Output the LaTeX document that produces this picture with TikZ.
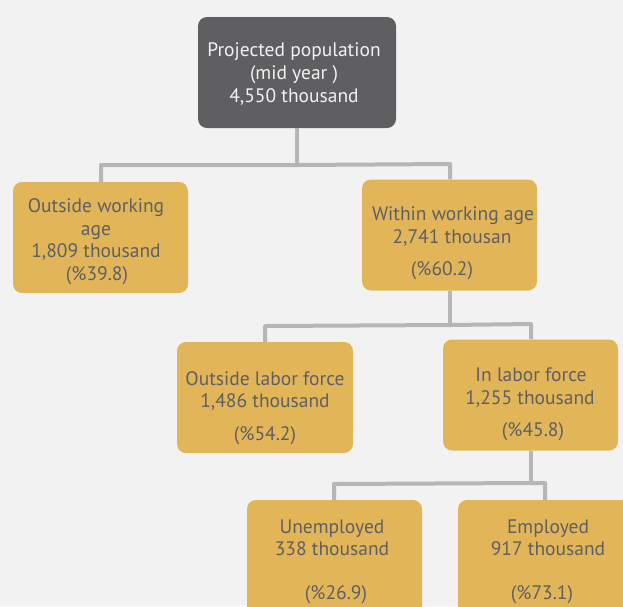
\documentclass[tikz,border=0pt]{standalone}
\usepackage{fontspec}
\setmainfont{PT Sans}
\definecolor{bg}{HTML}{F2F2F2}
\definecolor{darkbox}{HTML}{5F5F61}
\definecolor{goldbox}{HTML}{E2B658}
\definecolor{conncol}{HTML}{B5B6BA}
\definecolor{txtcol}{HTML}{5E5F63}
\definecolor{lighttxt}{HTML}{F2F2F2}
\begin{document}
\begin{tikzpicture}[x=1pt,y=-1pt,
  box/.style={rounded corners=9pt, inner sep=0pt, draw=none},
  gbox/.style={box, fill=goldbox},
  dbox/.style={box, fill=darkbox},
  lbl/.style={font=\fontsize{19.5}{22}\selectfont, text=txtcol, inner sep=0pt, text height=13.5pt, text depth=4.5pt, yshift=-2.5pt},
  wlbl/.style={lbl, text=lighttxt},
  conn/.style={draw=conncol, line width=4pt}
]
\useasboundingbox (0,0) rectangle (623,606);
\fill[bg] (0,0) rectangle (623,606);
\clip (0,0) rectangle (623,606);

% boxes
\node[dbox, minimum width=198pt, minimum height=111pt] (top) at (297,72.5) {};
\node[gbox, minimum width=175pt, minimum height=111pt] (owa) at (100.5,237.5) {};
\node[gbox, minimum width=175pt, minimum height=111pt] (wwa) at (449.5,235) {};
\node[gbox, minimum width=176pt, minimum height=111pt] (olf) at (265,397.5) {};
\node[gbox, minimum width=175pt, minimum height=111pt] (ilf) at (530.5,395) {};
\node[gbox, minimum width=175pt, minimum height=130pt] (une) at (334.5,565) {};
\node[gbox, minimum width=175pt, minimum height=130pt] (emp) at (545.5,565) {};

% connector junctions
\coordinate (j1) at (297,165);
\coordinate (j1l) at (101,165);
\coordinate (j1r) at (450,164);
\coordinate (j2) at (450,325);
\coordinate (j2l) at (265,326);
\coordinate (j2r) at (531,324);
\coordinate (j3) at (531,483);
\coordinate (j3l) at (334,484);
\coordinate (j3r) at (545,483);

\draw[conn] (top.south -| j1) -- (j1);
\draw[conn, line join=round] (j1l |- owa.north) -- (j1l) -- (j1) -- (j1r) -- (j1r |- wwa.north);
\draw[conn] (wwa.south -| j2) -- (j2);
\draw[conn, line join=round] (j2l |- olf.north) -- (j2l) -- (j2) -- (j2r) -- (j2r |- ilf.north);
\draw[conn] (ilf.south -| j3) -- (j3);
\draw[conn, line join=round] (j3l |- une.north) -- (j3l) -- (j3) -- (j3r) -- (j3r |- emp.north);

\coordinate (gt) at (295,128);
\coordinate (gb) at (295,137);
\draw[goldbox, line width=1pt] (gt) -- (gb);

% texts
\node[wlbl] (t1a) at (294,49) {Projected population};
\node[wlbl] (t1b) at (294,72) {(mid year )};
\node[wlbl] (t1c) at (294,95) {4,550 thousand};

\node[lbl] (t2a) at (96,205) {Outside working};
\node[lbl] (t2b) at (96,228) {age};
\node[lbl] (t2c) at (96,250) {1,809 thousand};
\node[lbl] (t2d) at (97,273) {(\%39.8)};

\node[lbl] (t3a) at (453,213) {Within working age};
\node[lbl] (t3b) at (452,236) {2,741 thousan};
\node[lbl] (t3c) at (442,268) {(\%60.2)};

\node[lbl] (t4a) at (265,378) {Outside labor force};
\node[lbl] (t4b) at (265,400) {1,486 thousand};
\node[lbl] (t4c) at (265,433) {(\%54.2)};

\node[lbl] (t5a) at (531,374) {In labor force};
\node[lbl] (t5b) at (530,397) {1,255 thousand};
\node[lbl] (t5c) at (533,429) {(\%45.8)};

\node[lbl] (t6a) at (332,526) {Unemployed};
\node[lbl] (t6b) at (332,548) {338 thousand};
\node[lbl] (t6c) at (336,592) {(\%26.9)};

\node[lbl] (t7a) at (548,526) {Employed};
\node[lbl] (t7b) at (548,548) {917 thousand};
\node[lbl] (t7c) at (542,592) {(\%73.1)};
\end{tikzpicture}
\end{document}
